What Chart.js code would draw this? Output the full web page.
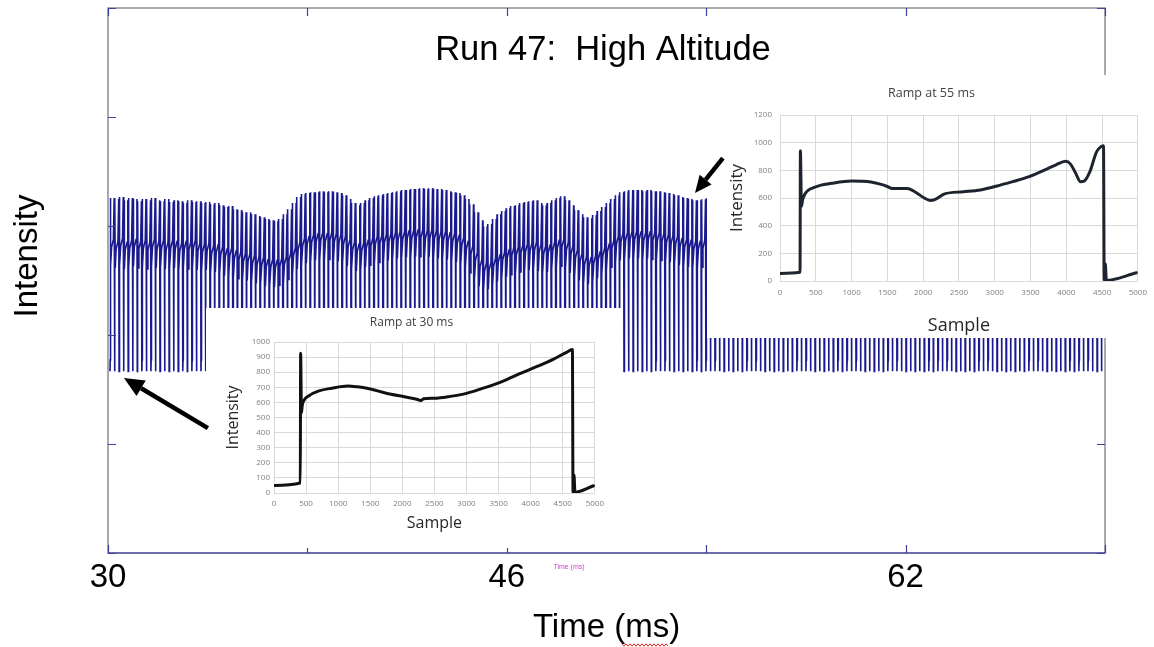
<!DOCTYPE html>
<html>
<head>
<meta charset="utf-8">
<title>Run 47: High Altitude</title>
<script src="https://cdn.jsdelivr.net/npm/chart.js@4"></script>
<style>
  html, body { margin: 0; padding: 0; background: #fff; }
  #wrap { position: relative; width: 1154px; height: 647px; overflow: hidden; }
  canvas { position: absolute; }
  #main { left: 0; top: 0; }
  #ramp30 { left: 220px; top: 308px; }
  #ramp55 { left: 720px; top: 75px; }
</style>
</head>
<body>
<div id="wrap">
  <canvas id="main" width="1154" height="647"></canvas>
  <canvas id="ramp30" width="390" height="237"></canvas>
  <canvas id="ramp55" width="434" height="263"></canvas>
</div>
<script>
// main trace: one ramp per pulse
const pulseStart = 30.08;    // ms
const pulsePeriod = 0.1825;  // ms between ramps
// top of each pulse (spike / end of ramp)
const pulseTop = [
  906, 901, 911, 895, 906, 901, 890, 901, 895, 906,
  895, 890, 901, 885, 895, 890, 880, 895, 885, 890,
  880, 885, 874, 880, 869, 859, 864, 848, 843, 832,
  832, 822, 812, 806, 796, 790, 785, 796, 822, 848,
  880, 911, 927, 932, 937, 937, 942, 937, 942, 937,
  932, 921, 901, 880, 869, 880, 895, 906, 916, 921,
  927, 932, 937, 942, 948, 948, 953, 953, 958, 953,
  958, 953, 953, 948, 942, 937, 932, 921, 901, 874,
  832, 790, 759, 770, 796, 822, 838, 853, 864, 869,
  880, 885, 890, 895, 880, 869, 880, 895, 906, 916,
  895, 869, 843, 822, 806, 801, 817, 838, 859, 880,
  901, 921, 937, 942, 948, 948, 948, 942, 948, 942,
  942, 937, 932, 927, 921, 911, 906, 901, 895, 895,
  900, 905, 910, 915, 920, 925, 925, 920, 915, 905,
  895, 885, 880, 885, 895, 905, 915, 925, 930, 935,
  935, 930, 925, 915, 905, 895, 890, 890, 895, 905,
  915, 925, 930, 935, 935, 930, 920, 910, 900, 890,
  885, 885, 890, 900, 910, 920, 930, 935, 940, 940,
  935, 925, 915, 905, 895, 890, 890, 895, 905, 915,
  925, 930, 935, 935, 930, 920, 910, 900, 895, 890,
  890, 895, 905, 915, 925, 930, 935, 935, 930, 925,
  915, 905, 900, 895, 895, 900, 910, 920
];
// plateau level of each ramp (the dense band)
const pulseBand = [
  650, 640, 655, 635, 645, 650, 640, 645, 635, 650,
  640, 645, 635, 645, 640, 630, 640, 635, 645, 630,
  625, 630, 615, 620, 610, 600, 605, 590, 585, 575,
  575, 565, 560, 555, 545, 545, 540, 550, 560, 580,
  605, 635, 655, 665, 675, 680, 685, 680, 685, 680,
  675, 665, 650, 635, 625, 630, 645, 655, 665, 670,
  675, 680, 685, 690, 690, 695, 695, 700, 700, 695,
  700, 695, 690, 690, 685, 680, 670, 660, 640, 615,
  580, 545, 525, 530, 550, 570, 585, 595, 605, 610,
  620, 625, 630, 635, 625, 615, 620, 635, 645, 650,
  635, 615, 595, 575, 560, 555, 565, 585, 605, 625,
  645, 665, 680, 685, 690, 690, 690, 685, 690, 685,
  685, 680, 675, 670, 665, 655, 650, 645, 640, 640,
  645, 650, 655, 660, 665, 670, 670, 665, 660, 650,
  640, 630, 625, 630, 640, 650, 660, 670, 675, 680,
  680, 675, 670, 660, 650, 640, 635, 635, 640, 650,
  660, 670, 675, 680, 680, 675, 665, 655, 645, 635,
  630, 630, 635, 645, 655, 665, 675, 680, 685, 685,
  680, 670, 660, 650, 640, 635, 635, 640, 650, 660,
  670, 675, 680, 680, 675, 665, 655, 645, 640, 635,
  635, 640, 650, 660, 670, 675, 680, 680, 675, 670,
  660, 650, 645, 640, 640, 645, 655, 665
];

const xTickValues = [30, 38, 46, 54, 62, 70];
const xTickLabels = [30, 46, 62];
const yTickValues = [-950, -380, 190, 760, 1330, 1900];

// inset: ramp at 30 ms
const ramp30Sample = [0, 410, 415, 428, 440, 470, 540, 700, 900, 1150, 1300, 1450, 1750, 2050, 2250, 2290, 2330, 2500, 2750, 3000, 3300, 3580, 3830, 4100, 4350, 4550, 4650, 4660, 4675, 4690, 4980];
const ramp30Value  = [50, 66, 925, 530, 580, 615, 643, 676, 694, 708, 703, 694, 661, 636, 618, 612, 624, 627, 640, 660, 700, 743, 790, 838, 885, 930, 950, 5, 120, 5, 48];
// inset: ramp at 55 ms
const ramp55Sample = [0, 280, 285, 300, 315, 350, 400, 470, 540, 720, 1000, 1270, 1400, 1500, 1570, 1780, 1900, 2000, 2100, 2170, 2300, 2560, 2800, 3020, 3250, 3480, 3710, 3850, 3990, 4060, 4130, 4200, 4250, 4330, 4420, 4470, 4520, 4530, 4545, 4560, 4980];
const ramp55Value  = [55, 63, 942, 540, 585, 630, 658, 675, 688, 706, 722, 716, 700, 683, 668, 668, 640, 605, 582, 590, 630, 645, 658, 685, 718, 754, 805, 838, 865, 845, 780, 718, 722, 790, 930, 965, 978, 8, 125, 5, 60];

const bigFont = '"Liberation Sans", Arial, sans-serif';
const smallFont = '"Open Sans", sans-serif';

// each ramp: drop, baseline, spike, dip, plateau, rise, end
const wave = [];
pulseTop.forEach((top, i) => {
  const t = pulseStart + i * pulsePeriod;
  const p = pulsePeriod;
  const band = pulseBand[i];
  wave.push({x: t, y: 0});
  wave.push({x: t + 0.05 * p, y: 60});
  wave.push({x: t + 0.08 * p, y: top});
  wave.push({x: t + 0.16 * p, y: band - 100});
  wave.push({x: t + 0.35 * p, y: band});
  wave.push({x: t + 0.75 * p, y: band + 40});
  wave.push({x: t + 0.92 * p, y: top});
});
wave.push({x: pulseStart + pulseTop.length * pulsePeriod, y: 0});

function arrow(ctx, x1, y1, x2, y2, head) {
  const a = Math.atan2(y2 - y1, x2 - x1);
  const bx = x2 - head * Math.cos(a), by = y2 - head * Math.sin(a);
  ctx.beginPath(); ctx.moveTo(x1, y1); ctx.lineTo(bx, by); ctx.stroke();
  ctx.beginPath();
  ctx.moveTo(x2, y2);
  ctx.lineTo(bx + head * 0.45 * Math.sin(a), by - head * 0.45 * Math.cos(a));
  ctx.lineTo(bx - head * 0.45 * Math.sin(a), by + head * 0.45 * Math.cos(a));
  ctx.closePath(); ctx.fill();
}

const framePlugin = {
  id: 'frame',
  afterDraw(chart) {
    const {ctx, chartArea: a, scales: {x, y}} = chart;
    ctx.save();
    // frame
    ctx.strokeStyle = '#8c8c98';
    ctx.lineWidth = 1.5;
    ctx.strokeRect(a.left, a.top, a.right - a.left, a.bottom - a.top);
    ctx.strokeStyle = '#5a5aa8';
    ctx.beginPath(); ctx.moveTo(a.left, a.bottom); ctx.lineTo(a.right, a.bottom); ctx.stroke();
    // inward ticks
    ctx.strokeStyle = '#4040a0';
    ctx.lineWidth = 1.2;
    ctx.beginPath();
    x.ticks.forEach(t => {
      const px = Math.round(x.getPixelForValue(t.value)) + 0.5;
      ctx.moveTo(px, a.bottom); ctx.lineTo(px, a.bottom - 8);
      ctx.moveTo(px, a.top); ctx.lineTo(px, a.top + 8);
    });
    y.ticks.forEach(t => {
      const py = Math.round(y.getPixelForValue(t.value)) + 0.5;
      ctx.moveTo(a.left, py); ctx.lineTo(a.left + 8, py);
      ctx.moveTo(a.right, py); ctx.lineTo(a.right - 8, py);
    });
    ctx.stroke();

    // white backgrounds behind the two inset charts
    ctx.fillStyle = '#fff';
    ctx.fillRect(206, 308, 416, 240);
    ctx.fillRect(707, 75, 447, 263);

    // arrows pointing at the ramps
    ctx.strokeStyle = '#000';
    ctx.fillStyle = '#000';
    ctx.lineWidth = 4.5;
    arrow(ctx, x.getPixelForValue(34.01), y.getPixelForValue(-297), x.getPixelForValue(30.64), y.getPixelForValue(-35), 20);
    arrow(ctx, x.getPixelForValue(54.67), y.getPixelForValue(1115), x.getPixelForValue(53.55), y.getPixelForValue(933), 17);

    // texts
    ctx.fillStyle = '#000';
    ctx.font = '34.5px ' + bigFont;
    ctx.textAlign = 'center';
    ctx.textBaseline = 'alphabetic';
    ctx.fillText('Run 47:  High Altitude', 603, 60);
    ctx.font = '33px ' + bigFont;
    ctx.save();
    ctx.translate(37, 256);
    ctx.rotate(-Math.PI / 2);
    ctx.fillText('Intensity', 0, 0);
    ctx.restore();

    ctx.fillStyle = '#d23cd2';
    ctx.font = '7px ' + bigFont;
    ctx.fillText('Time (ms)', 569, 569);

    // spell-check squiggle under "ms"
    ctx.strokeStyle = '#e02828';
    ctx.lineWidth = 1;
    ctx.beginPath();
    for (let px = 622, k = 0; px <= 668; px += 2, k++) {
      const py = 645 + (k % 2 ? 1.2 : -1.2);
      if (k === 0) ctx.moveTo(px, py); else ctx.lineTo(px, py);
    }
    ctx.stroke();
    ctx.restore();
  }
};

new Chart(document.getElementById('main'), {
  type: 'line',
  data: {
    datasets: [{
      data: wave,
      borderColor: '#1a1a8e',
      borderWidth: 1.6,
      pointRadius: 0,
      tension: 0
    }]
  },
  options: {
    responsive: false,
    animation: false,
    devicePixelRatio: 1,
    parsing: false,
    layout: { padding: { top: 8, right: 49, left: 0, bottom: 0 } },
    plugins: { legend: { display: false }, tooltip: { enabled: false } },
    scales: {
      x: {
        type: 'linear', min: 30, max: 70,
        afterBuildTicks: s => { s.ticks = xTickValues.map(v => ({ value: v })); },
        ticks: {
          autoSkip: false, maxRotation: 0, padding: 5, color: '#000',
          font: { family: bigFont, size: 33 },
          callback: v => xTickLabels.includes(v) ? String(v) : ''
        },
        grid: { display: false, drawTicks: false },
        border: { display: false },
        title: { display: true, text: 'Time (ms)', color: '#000', font: { family: bigFont, size: 33, lineHeight: 1 }, padding: { top: 0, bottom: 3 } },
        afterFit: s => { s.height = 94; }
      },
      y: {
        type: 'linear', min: -950, max: 1900,
        afterBuildTicks: s => { s.ticks = yTickValues.map(v => ({ value: v })); },
        ticks: { display: false },
        grid: { display: false, drawTicks: false },
        border: { display: false },
        afterFit: s => { s.width = 108; }
      }
    }
  },
  plugins: [framePlugin]
});

function rampChart(id, titleText, samples, values, yMax, yStep, lay) {
  const points = samples.map((s, i) => ({ x: s, y: values[i] }));
  return new Chart(document.getElementById(id), {
    type: 'line',
    data: {
      datasets: [{
        data: points,
        borderColor: lay.color,
        borderWidth: 3,
        pointRadius: 0,
        cubicInterpolationMode: 'monotone',
        borderJoinStyle: 'round',
        borderCapStyle: 'round'
      }]
    },
    options: {
      responsive: false,
      animation: false,
      devicePixelRatio: 1,
      layout: { padding: { right: lay.padRight } },
      plugins: {
        legend: { display: false },
        tooltip: { enabled: false },
        title: {
          display: true, text: titleText, color: '#404040',
          font: { family: smallFont, size: lay.titleSize, weight: 'normal' },
          padding: { top: lay.titleTop, bottom: lay.titleBottom }
        }
      },
      scales: {
        x: {
          type: 'linear', min: 0, max: 5000,
          ticks: { stepSize: 500, autoSkip: false, maxRotation: 0, color: '#7f7f7f', font: { family: smallFont, size: 8 }, padding: lay.xPad, callback: v => String(v) },
          grid: { color: '#d9d9d9', drawTicks: false },
          border: { display: false },
          title: { display: true, text: 'Sample', color: '#262626', font: { family: smallFont, size: lay.sampleSize }, padding: { top: 0, bottom: lay.samplePad } },
          afterFit: s => { s.height = lay.xHeight; }
        },
        y: {
          min: 0, max: yMax,
          ticks: { stepSize: yStep, color: '#7f7f7f', font: { family: smallFont, size: 8 }, padding: lay.yPad, callback: v => String(v) },
          grid: { color: '#d9d9d9', drawTicks: false },
          border: { display: false },
          title: { display: true, text: 'Intensity', color: '#262626', font: { family: smallFont, size: lay.intSize }, padding: { top: lay.intPad, bottom: 0 } },
          afterFit: s => { s.width = lay.yWidth; }
        }
      }
    }
  });
}

rampChart('ramp30', 'Ramp at 30 ms', ramp30Sample, ramp30Value, 1000, 100, {
  color: '#111111', padRight: 7, titleSize: 12, titleTop: 7.8, titleBottom: 11.8,
  yWidth: 54, xHeight: 52, xPad: 6, yPad: 4, sampleSize: 16, samplePad: 12.4,
  intSize: 16, intPad: 3.4
});

rampChart('ramp55', 'Ramp at 55 ms', ramp55Sample, ramp55Value, 1200, 200, {
  color: '#1d2430', padRight: 11, titleSize: 12.5, titleTop: 10.5, titleBottom: 14.5,
  yWidth: 60, xHeight: 57, xPad: 7, yPad: 8, sampleSize: 18, samplePad: 1.2,
  intSize: 17, intPad: 6.8
});
</script>
</body>
</html>
